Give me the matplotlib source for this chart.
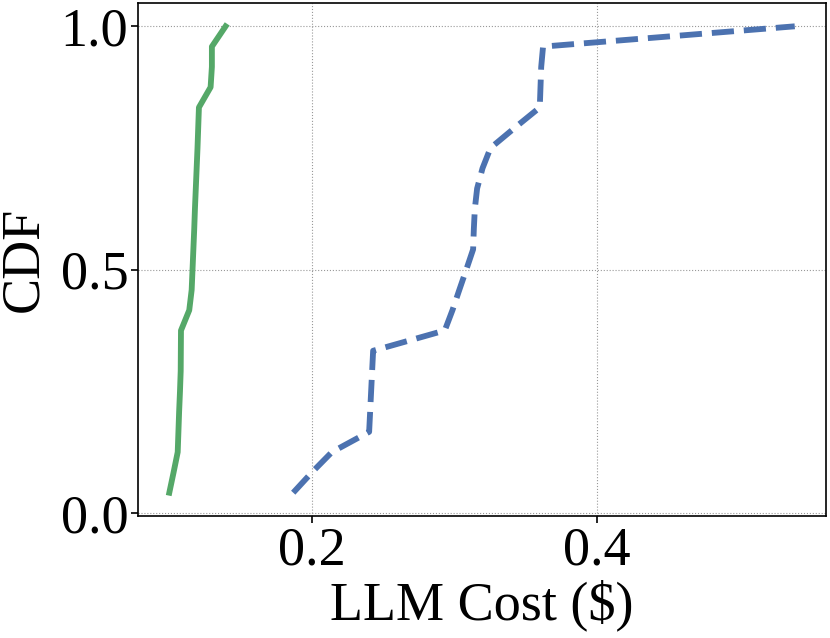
import matplotlib
matplotlib.use("Agg")
import matplotlib.pyplot as plt

plt.rcParams['font.family'] = ['Liberation Serif', 'DejaVu Serif']

# CDF data (24 samples each)
cdf_levels = [(k + 1) / 24 for k in range(24)]

cost_green = [0.0999, 0.1029, 0.1058, 0.1063, 0.1068, 0.1074, 0.1079, 0.1080,
              0.1081, 0.1139, 0.1156, 0.1162, 0.1168, 0.1174, 0.1179, 0.1185,
              0.1191, 0.1197, 0.1202, 0.1207, 0.1289, 0.1298, 0.1298, 0.1394]

cost_blue = [0.1869, 0.2000, 0.2140, 0.2402, 0.2409, 0.2416, 0.2423, 0.2430,
             0.2933, 0.2987, 0.3035, 0.3084, 0.3132, 0.3137, 0.3144, 0.3160,
             0.3198, 0.3254, 0.3425, 0.3600, 0.3605, 0.3610, 0.3623, 0.5390]

x_ticks = [0.2, 0.4]
x_tick_labels = ["0.2", "0.4"]
y_ticks = [0.0, 0.5, 1.0]
y_tick_labels = ["0.0", "0.5", "1.0"]

fig = plt.figure(figsize=(8.30, 6.38), dpi=100)
ax = fig.add_axes([0.1663, 0.1912, 0.9952 - 0.1663, 0.9953 - 0.1912])

ax.plot(cost_green, cdf_levels, color='#55a868', lw=4.2, linestyle='-')
ax.plot(cost_blue, cdf_levels, color='#4c72b0', lw=4.2, linestyle=(0, (3.8, 1.7)))

ax.set_xticks(x_ticks)
ax.set_xticklabels(x_tick_labels)
ax.set_yticks(y_ticks)
ax.set_yticklabels(y_tick_labels)

ax.grid(True, linestyle=':', color='#999999', lw=0.8)
ax.set_axisbelow(True)
ax.tick_params(axis='both', labelsize=39, length=5, width=1.2, direction='out', pad=2)
for s in ax.spines.values():
    s.set_linewidth(1.2)
    s.set_color('black')

ax.set_xlabel("LLM Cost ($)", fontsize=39, labelpad=2)
ax.set_ylabel("CDF", fontsize=39, labelpad=8)

fig.savefig("out.png", dpi=100)
